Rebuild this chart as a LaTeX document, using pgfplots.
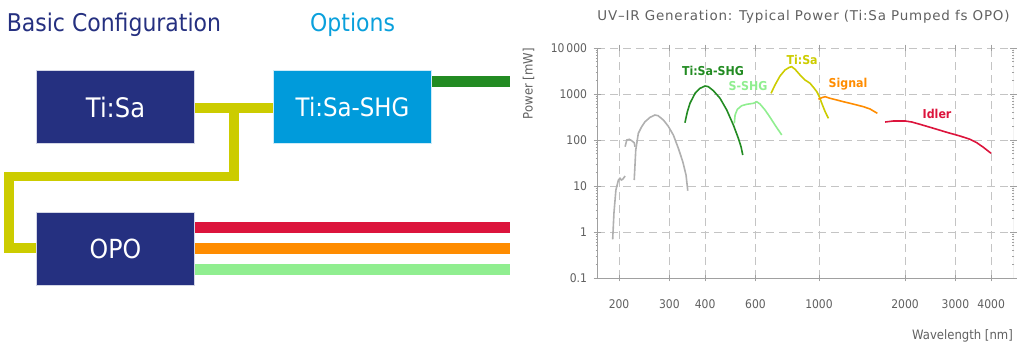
\documentclass[border=0pt]{standalone}
\usepackage{pgfplots}
\pgfplotsset{compat=1.18}
\usepackage{fontspec}
\setmainfont{DejaVu Sans}
\newfontfamily\cf[FakeStretch=0.9]{DejaVu Sans}
\newfontfamily\ctf[LetterSpace=6]{DejaVu Sans}
\definecolor{navy}{HTML}{253080}
\definecolor{skyb}{HTML}{009BDB}
\definecolor{optb}{HTML}{0AA0DC}
\definecolor{ylw}{HTML}{CCCC00}
\definecolor{fgreen}{HTML}{228B22}
\definecolor{lgreen}{HTML}{90EE90}
\definecolor{orng}{HTML}{FF8C00}
\definecolor{crim}{HTML}{DC143C}
\definecolor{gcurve}{HTML}{B0B0B0}
\definecolor{txtg}{HTML}{606060}
\definecolor{gridg}{HTML}{C4C4C4}
\definecolor{axg}{HTML}{A0A0A0}
\begin{document}
\begin{tikzpicture}[x=1bp,y=1bp]
\path[use as bounding box] (0,0) rectangle (1024,352);
% ---------- left diagram ----------
\draw[fgreen, line width=10.7] (431.7,270.7) -- (510,270.7);
\draw[ylw, line width=10, line join=miter, line cap=butt] (194.3,244.3) -- (273.3,244.3);
\draw[ylw, line width=10, line join=miter, line cap=butt] (234.3,244.3) -- (234.3,175.5) -- (9.2,175.5) -- (9.2,103.7) -- (36.7,103.7);
\draw[crim, line width=11] (194.3,124.2) -- (510,124.2);
\draw[orng, line width=10.7] (194.3,103.3) -- (510,103.3);
\draw[lgreen, line width=10.7] (194.3,82.3) -- (510,82.3);
\filldraw[fill=navy, draw=white!80!navy, line width=0.6] (36.7,208.7) rectangle (194.3,281.3);
\filldraw[fill=skyb, draw=white!80!skyb, line width=0.6] (273.3,208.7) rectangle (431.7,281.3);
\filldraw[fill=navy, draw=white!80!navy, line width=0.6] (36.7,67) rectangle (194.3,139.7);
\node[white, font=\cf\fontsize{27}{30}\selectfont] at (115.5,245) {Ti:Sa};
\node[white, font=\cf\fontsize{25.5}{30}\selectfont] at (352.5,245) {Ti:Sa-SHG};
\node[white, font=\cf\fontsize{26.4}{30}\selectfont] at (115.5,103.3) {OPO};
\node[navy, anchor=base west, inner sep=0, font=\cf\fontsize{24.5}{28}\selectfont] at (6.7,320.3) {Basic Configuration};
\node[optb, anchor=base west, inner sep=0, font=\cf\fontsize{24.5}{28}\selectfont] at (310,320.3) {Options};
% ---------- chart texts ----------
\node[txtg, anchor=base, inner sep=0, font=\ctf\fontsize{13.5}{15}\selectfont] at (803.5,331.3) {UV–IR Generation: Typical Power (Ti:Sa Pumped fs OPO)};
\node[txtg, anchor=base east, inner sep=0, font=\cf\fontsize{13}{15}\selectfont] at (1013,13) {Wavelength [nm]};
\node[txtg, rotate=90, anchor=base east, inner sep=0, font=\cf\fontsize{13}{15}\selectfont] at (532.7,304) {Power [mW]};
% ---------- chart ----------
\begin{axis}[
  at={(597bp,74bp)}, anchor=south west, scale only axis,
  width=416bp, height=230bp,
  xmode=log, ymode=log,
  xmin=167.5, xmax=4770, ymin=0.1, ymax=10000,
  xtick={200,300,400,600,1000,2000,3000,4000},
  xticklabels={200,300,400,600,1000,2000,3000,4000},
  ytick={0.1,1,10,100,1000,10000},
  yticklabels={0.1,1,10,100,1000,10\,000},
  minor tick num=0, minor xtick={}, minor ytick={},
  grid=major,
  major grid style={gridg, line width=0.9bp, dash pattern=on 8bp off 5bp},
  axis line style={draw=none},
  tick style={axg, line width=0.8bp},
  tick align=center, major tick length=7bp,
  xticklabel style={anchor=base, yshift=-27bp, font=\cf\fontsize{12}{14}\selectfont, text=txtg},
  yticklabel style={xshift=-3bp, font=\cf\fontsize{12}{14}\selectfont, text=txtg},
  every axis plot/.append style={line width=1.6bp, mark=none},
]
\draw[axg, line width=1bp] (rel axis cs:0,1) -- (rel axis cs:0,0) -- (rel axis cs:1,0) -- (rel axis cs:1,1);
% Gray (UV) segments
\addplot[gcurve] coordinates {(190,0.69) (192,2.6) (195,8.2) (199,13.5) (201.6,14.7) (203.7,13.5) (206,14.0) (210,16.5)};
\addplot[gcurve] coordinates {(210,71.5) (212.8,100) (217.3,103.5) (221.5,96.6) (226,87) (227.5,71.5)};
\addplot[gcurve] coordinates {(226,13.5) (228.8,60.6) (233.6,140) (240,195) (246.6,250) (256.7,311) (267,349) (274,337) (285.7,272) (297,201) (309.7,128) (322.4,66) (334,34) (343,17.3) (347.8,7.9)};
% Ti:Sa-SHG
\addplot[fgreen] coordinates {(340,238) (346.7,412) (354,628) (368.9,1036) (384,1330) (399.8,1493) (410.5,1442) (427.4,1180) (451,806) (476,449) (502,212) (522.6,109) (534,71.5) (541.5,47.2)};
% S-SHG
\addplot[lgreen] coordinates {(506,231) (509,349) (518.4,465) (537,557) (559,597) (590,628) (606,680) (622,606) (648,449) (674.6,311) (702,212) (741,128.5)};
% Ti:Sa
\addplot[ylw] coordinates {(680,1036) (702,1570) (731,2462) (761,3325) (788,3805) (803,3921) (825,3443) (859,2588) (894,2015) (931,1709) (956,1399) (983,1122) (1003,874) (1023,628) (1051,412) (1079,296)};
% Signal
\addplot[orng] coordinates {(995.6,767) (1023,831) (1051,874) (1094,806) (1154,741) (1217,680) (1285,628) (1356,577) (1430,530) (1509,472) (1550,427) (1600,381)};
% Idler
\addplot[crim] coordinates {(1703,246) (1821,259) (2000,259) (2111,246) (2257,219) (2512,180) (2798,147) (3114,122) (3376,103.5) (3562,87.4) (3757,69.4) (3997,51.4)};
% curve labels
\node[fgreen, font=\cf\bfseries\fontsize{12.3}{14}\selectfont] at (axis cs:426,3162) {Ti:Sa-SHG};
\node[lgreen, font=\cf\bfseries\fontsize{12.3}{14}\selectfont] at (axis cs:565,1493) {S-SHG};
\node[ylw, font=\cf\bfseries\fontsize{12.3}{14}\selectfont] at (axis cs:873,5483) {Ti:Sa};
\node[orng, font=\cf\bfseries\fontsize{12.3}{14}\selectfont] at (axis cs:1264,1648) {Signal};
\node[crim, font=\cf\bfseries\fontsize{12.3}{14}\selectfont] at (axis cs:2588,367) {Idler};
\end{axis}
\end{tikzpicture}
\end{document}
